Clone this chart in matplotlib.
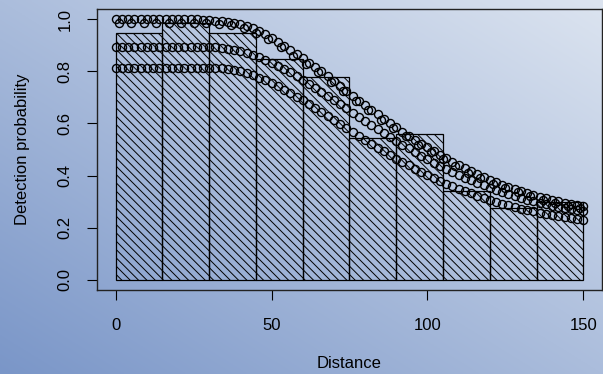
import numpy as np
import matplotlib
matplotlib.use('Agg')
import matplotlib.pyplot as plt

plt.rcParams['font.family'] = ['Liberation Sans', 'DejaVu Sans']
plt.rcParams['hatch.linewidth'] = 0.7

# histogram of scaled detection counts (bins of 15 m)
breaks = [0, 15, 30, 45, 60, 75, 90, 105, 120, 135, 150]
bar_heights = [0.946, 0.985, 0.946, 0.846, 0.78, 0.546, 0.558, 0.342, 0.277, 0.30]

dist_a = [0, 2, 4, 6, 8, 10, 12, 14, 16, 18, 20, 22, 24, 26, 28, 30, 32, 34, 36, 38,
          40, 42, 44, 46, 48, 50, 52, 54, 56, 58, 60, 62, 64, 66, 68, 70, 72, 74, 76, 78,
          80, 82, 84, 86, 88, 90, 92, 94, 96, 98, 100, 102, 104, 106, 108, 110, 112, 114,
          116, 118, 120, 122, 124, 126, 128, 130, 132, 134, 136, 138, 140, 142, 144, 146,
          148, 150]
prob_a = [1.0, 1.0, 1.0, 1.0, 1.0, 1.0, 1.0, 1.0, 1.0, 1.0, 1.0, 1.0, 1.0, 1.0, 0.998,
          0.997, 0.995, 0.993, 0.99, 0.987, 0.982, 0.975, 0.966, 0.955, 0.942, 0.928,
          0.913, 0.897, 0.881, 0.866, 0.85, 0.834, 0.817, 0.8, 0.782, 0.764, 0.745, 0.726,
          0.707, 0.688, 0.67, 0.652, 0.635, 0.618, 0.601, 0.585, 0.569, 0.553, 0.538,
          0.523, 0.508, 0.494, 0.48, 0.466, 0.453, 0.44, 0.428, 0.416, 0.405, 0.394,
          0.384, 0.374, 0.365, 0.356, 0.348, 0.34, 0.333, 0.326, 0.319, 0.313, 0.307,
          0.301, 0.296, 0.291, 0.286, 0.281]

dist_a2 = [1, 5, 9, 13, 17, 21, 25, 29, 33, 37, 41, 45, 49, 53, 57, 61, 65, 69, 73, 77,
           81, 85, 89, 93, 97, 101, 105, 109, 113, 117, 121, 125, 129, 133, 137, 141, 145, 149]
prob_a2 = [0.988, 0.988, 0.988, 0.988, 0.988, 0.988, 0.987, 0.985, 0.982, 0.977, 0.967,
           0.949, 0.923, 0.893, 0.861, 0.83, 0.797, 0.761, 0.724, 0.686, 0.65, 0.615,
           0.582, 0.55, 0.519, 0.49, 0.462, 0.435, 0.411, 0.389, 0.369, 0.351, 0.335,
           0.32, 0.307, 0.295, 0.284, 0.274]

dist_b = [0, 2, 4, 6, 8, 10, 12, 14, 16, 18, 20, 22, 24, 26, 28, 30, 32, 34, 36, 38,
          40, 42, 44, 46, 48, 50, 52, 54, 56, 58, 60, 62, 64, 66, 68, 70, 72, 74, 76, 78,
          80, 82, 84, 86, 88, 90, 92, 94, 96, 98, 100, 102, 104, 106, 108, 110, 112, 114,
          116, 118, 120, 122, 124, 126, 128, 130, 132, 134, 136, 138, 140, 142, 144, 146,
          148, 150]
prob_b = [0.895, 0.895, 0.895, 0.895, 0.895, 0.895, 0.895, 0.895, 0.895, 0.895, 0.895,
          0.895, 0.895, 0.895, 0.895, 0.895, 0.893, 0.891, 0.888, 0.884, 0.879, 0.872,
          0.864, 0.855, 0.845, 0.834, 0.822, 0.809, 0.796, 0.782, 0.768, 0.753, 0.738,
          0.722, 0.706, 0.69, 0.674, 0.658, 0.642, 0.626, 0.61, 0.594, 0.578, 0.563,
          0.548, 0.533, 0.518, 0.504, 0.49, 0.476, 0.463, 0.45, 0.437, 0.425, 0.413,
          0.402, 0.391, 0.381, 0.371, 0.362, 0.353, 0.344, 0.336, 0.328, 0.321, 0.314,
          0.307, 0.301, 0.295, 0.289, 0.284, 0.279, 0.274, 0.27, 0.266, 0.262]

dist_c = [0, 2, 4, 6, 8, 10, 12, 14, 16, 18, 20, 22, 24, 26, 28, 30, 32, 34, 36, 38,
          40, 42, 44, 46, 48, 50, 52, 54, 56, 58, 60, 62, 64, 66, 68, 70, 72, 74, 76, 78,
          80, 82, 84, 86, 88, 90, 92, 94, 96, 98, 100, 102, 104, 106, 108, 110, 112, 114,
          116, 118, 120, 122, 124, 126, 128, 130, 132, 134, 136, 138, 140, 142, 144, 146,
          148, 150]
prob_c = [0.815, 0.815, 0.815, 0.815, 0.815, 0.815, 0.815, 0.815, 0.815, 0.815, 0.815,
          0.815, 0.815, 0.815, 0.815, 0.815, 0.814, 0.812, 0.809, 0.805, 0.8, 0.793,
          0.785, 0.776, 0.766, 0.755, 0.743, 0.73, 0.717, 0.703, 0.689, 0.674, 0.659,
          0.644, 0.629, 0.613, 0.598, 0.582, 0.567, 0.552, 0.537, 0.522, 0.507, 0.493,
          0.479, 0.465, 0.452, 0.439, 0.426, 0.414, 0.402, 0.391, 0.38, 0.369, 0.359,
          0.349, 0.34, 0.331, 0.322, 0.314, 0.306, 0.299, 0.292, 0.285, 0.279, 0.273,
          0.267, 0.262, 0.257, 0.252, 0.248, 0.244, 0.24, 0.236, 0.233, 0.23]

fig = plt.figure(figsize=(6.03, 3.74), dpi=100)

# diagonal gradient background, dark bottom-left to light top-right
bg = fig.add_axes([0, 0, 1, 1], zorder=-1)
u, v = np.meshgrid(np.linspace(0, 1, 300), np.linspace(1, 0, 200))
t = 0.5 * (u + v)
dark = np.array([122, 150, 200]) / 255.0
light = np.array([220, 228, 240]) / 255.0
grad = dark[None, None, :] + t[..., None] * (light - dark)[None, None, :]
bg.imshow(grad, aspect='auto', extent=[0, 1, 0, 1])
bg.axis('off')

ax = fig.add_axes([97 / 603, (374 - 290) / 374, 505 / 603, 281 / 374])
ax.set_facecolor('none')

widths = np.diff(breaks)
ax.bar(breaks[:-1], bar_heights, width=widths, align='edge', facecolor='none',
       edgecolor='black', linewidth=0.9, hatch='\\\\\\\\', zorder=1)

for d, p in [(dist_c, prob_c), (dist_b, prob_b), (dist_a2, prob_a2), (dist_a, prob_a)]:
    ax.plot(d, p, linestyle='none', marker='o', ms=5.8, mfc='none', mec='black',
            mew=1.0, zorder=3)

ax.set_xlim(-6, 156)
ax.set_ylim(-0.04, 1.04)
ax.set_xticks([0, 50, 100, 150])
ax.set_yticks([0.0, 0.2, 0.4, 0.6, 0.8, 1.0])
ax.set_yticklabels(['0.0', '0.2', '0.4', '0.6', '0.8', '1.0'], rotation=90, va='center')
ax.tick_params(axis='both', direction='out', length=7.5, width=0.8, labelsize=12,
               colors='black')
ax.tick_params(axis='x', pad=13)
ax.tick_params(axis='y', pad=10)
for s in ax.spines.values():
    s.set_color('#222222')
    s.set_linewidth(1.0)

ax.set_xlabel('Distance', fontsize=12, va='center')
ax.xaxis.set_label_coords(0.5, (290 - 364) / 281)
ax.set_ylabel('Detection probability', fontsize=12, va='center')
ax.yaxis.set_label_coords((22 - 97) / 505, 0.5)

fig.savefig('out.png', dpi=100)
